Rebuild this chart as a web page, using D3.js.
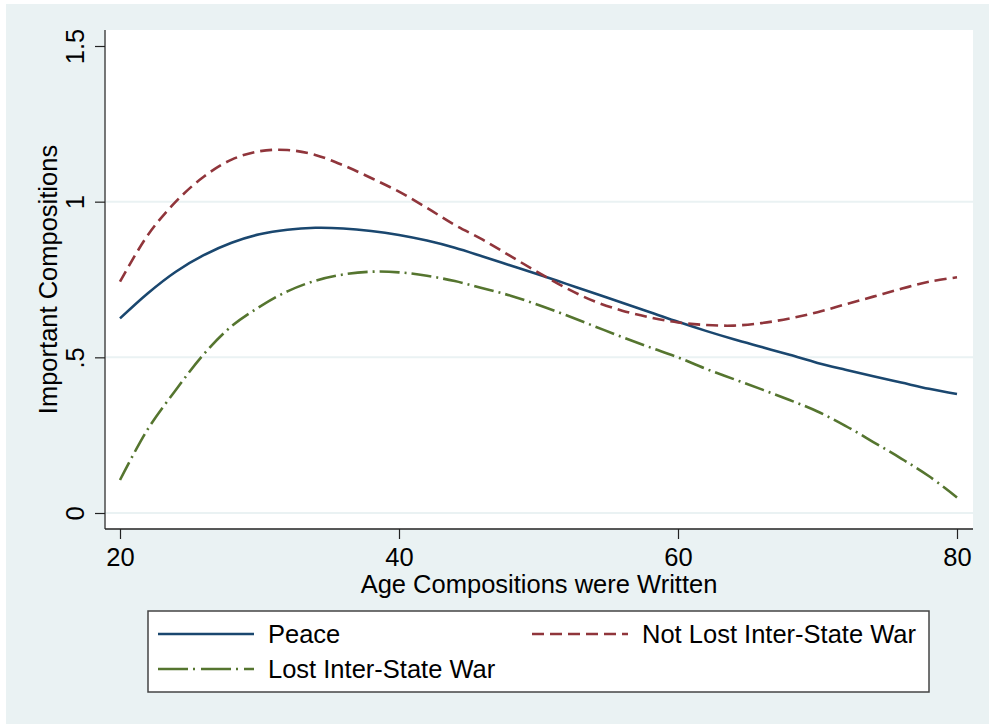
<!DOCTYPE html>
<html>
<head>
<meta charset="utf-8">
<script src="https://cdn.jsdelivr.net/npm/d3@7"></script>
<style>
  body { margin: 0; background: #fff; }
  text { font-family: "Liberation Sans", Arial, sans-serif; fill: #000; }
</style>
</head>
<body>
<svg id="chart" width="989" height="724"></svg>
<script>
// ages on the x axis
var ages = [20, 22, 24, 26, 28, 30, 32, 34, 36, 38, 40, 42, 44, 46, 48, 50,
            52, 54, 56, 58, 60, 62, 64, 66, 68, 70, 72, 74, 76, 78, 80];

var peace = [0.625, 0.706, 0.775, 0.828, 0.868, 0.895, 0.910, 0.916, 0.914, 0.906, 0.893,
             0.875, 0.852, 0.824, 0.795, 0.766, 0.736, 0.706, 0.675, 0.645, 0.614,
             0.585, 0.558, 0.533, 0.508, 0.482, 0.460, 0.439, 0.419, 0.399, 0.382];

var notLost = [0.743, 0.893, 1.000, 1.080, 1.135, 1.162, 1.166, 1.150, 1.117, 1.076, 1.032,
               0.980, 0.925, 0.878, 0.825, 0.772, 0.722, 0.680, 0.650, 0.628, 0.612,
               0.604, 0.602, 0.610, 0.625, 0.645, 0.670, 0.695, 0.720, 0.743, 0.757];

var lost = [0.106, 0.270, 0.395, 0.510, 0.600, 0.662, 0.712, 0.746, 0.766, 0.775, 0.773,
            0.762, 0.745, 0.722, 0.698, 0.668, 0.635, 0.600, 0.565, 0.532, 0.500,
            0.463, 0.430, 0.397, 0.363, 0.326, 0.280, 0.228, 0.175, 0.118, 0.050];

var xTicks = [20, 40, 60, 80];
var yTicks = [0, 0.5, 1, 1.5];
var yTickLabels = ["0", ".5", "1", "1.5"];

var series = [
  { name: "Peace", values: peace, color: "#1a476f", dash: null },
  { name: "Not Lost Inter-State War", values: notLost, color: "#90353b", dash: "12,6" },
  { name: "Lost Inter-State War", values: lost, color: "#55752f", dash: "20,5,2,5" }
];

var fontSize = "25.5px";
var svg = d3.select("#chart");

// outer background
svg.append("rect")
  .attr("x", 6).attr("y", 4)
  .attr("width", 983).attr("height", 720)
  .attr("fill", "#eaf2f3");

var plot = { left: 105, right: 973, top: 30, bottom: 529 };

svg.append("rect")
  .attr("x", plot.left).attr("y", plot.top)
  .attr("width", plot.right - plot.left).attr("height", plot.bottom - plot.top)
  .attr("fill", "#fff");

var x = d3.scaleLinear().domain([20, 80]).range([120, 957]);
var y = d3.scaleLinear().domain([0, 1.5]).range([513, 46]);

// grid lines
svg.append("g")
  .selectAll("line")
  .data([0, 0.5, 1])
  .enter().append("line")
  .attr("x1", plot.left).attr("x2", plot.right)
  .attr("y1", function(d) { return y(d); })
  .attr("y2", function(d) { return y(d); })
  .attr("stroke", "#eaf2f3")
  .attr("stroke-width", 2);

// lines
var line = d3.line()
  .x(function(d) { return x(d[0]); })
  .y(function(d) { return y(d[1]); })
  .curve(d3.curveCatmullRom);

series.forEach(function(s) {
  var pts = ages.map(function(a, i) { return [a, s.values[i]]; });
  svg.append("path")
    .datum(pts)
    .attr("d", line)
    .attr("fill", "none")
    .attr("stroke", s.color)
    .attr("stroke-width", 2.6)
    .attr("stroke-dasharray", s.dash);
});

// y axis
var yAxis = svg.append("g")
  .attr("transform", "translate(" + plot.left + ",0)")
  .call(d3.axisLeft(y).tickValues(yTicks).tickSize(10)
    .tickFormat(function(d, i) { return yTickLabels[i]; }));
yAxis.select(".domain").attr("d", "M0," + plot.top + "V" + plot.bottom)
  .attr("stroke", "#555").attr("stroke-width", 1.6);
yAxis.selectAll(".tick line").attr("stroke", "#222").attr("stroke-width", 1.2);
yAxis.selectAll(".tick text")
  .attr("x", 0).attr("y", 0).attr("dy", null)
  .attr("transform", "translate(-21,0) rotate(-90)")
  .attr("text-anchor", "middle")
  .style("font-size", fontSize)
  .style("font-family", '"Liberation Sans", Arial, sans-serif')
  .attr("fill", "#000");

// x axis
var xAxis = svg.append("g")
  .attr("transform", "translate(0," + plot.bottom + ")")
  .call(d3.axisBottom(x).tickValues(xTicks).tickSize(10).tickFormat(d3.format("d")));
xAxis.select(".domain").attr("d", "M" + plot.left + ",0H" + plot.right)
  .attr("stroke", "#222").attr("stroke-width", 1.6);
xAxis.selectAll(".tick line").attr("stroke", "#222").attr("stroke-width", 1.2);
xAxis.selectAll(".tick text")
  .attr("y", 37).attr("dy", null)
  .style("font-size", fontSize)
  .style("font-family", '"Liberation Sans", Arial, sans-serif')
  .attr("fill", "#000");

// axis titles
svg.append("text")
  .attr("x", (plot.left + plot.right) / 2).attr("y", 593)
  .attr("text-anchor", "middle")
  .style("font-size", fontSize)
  .text("Age Compositions were Written");

svg.append("text")
  .attr("transform", "translate(57," + (plot.top + plot.bottom) / 2 + ") rotate(-90)")
  .attr("text-anchor", "middle")
  .style("font-size", fontSize)
  .text("Important Compositions");

// legend
var legend = svg.append("g");
legend.append("rect")
  .attr("x", 148).attr("y", 611)
  .attr("width", 781).attr("height", 81)
  .attr("fill", "#fff")
  .attr("stroke", "#444").attr("stroke-width", 1.5);

var legendPos = [
  { lx: 158, ty: 634 },
  { lx: 532, ty: 634 },
  { lx: 158, ty: 669 }
];

series.forEach(function(s, i) {
  var p = legendPos[i];
  legend.append("line")
    .attr("x1", p.lx).attr("x2", p.lx + 96)
    .attr("y1", p.ty).attr("y2", p.ty)
    .attr("stroke", s.color)
    .attr("stroke-width", 2.6)
    .attr("stroke-dasharray", s.dash === "20,5,2,5" ? "30,5,2,6" : s.dash);
  legend.append("text")
    .attr("x", p.lx + 110).attr("y", p.ty + 9)
    .style("font-size", fontSize)
    .text(s.name);
});
</script>
</body>
</html>
